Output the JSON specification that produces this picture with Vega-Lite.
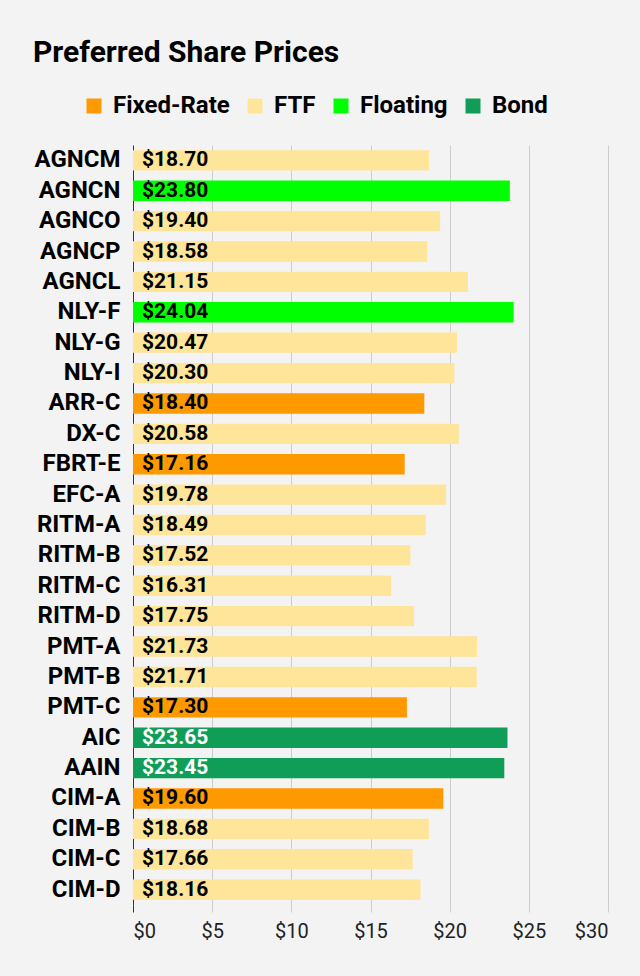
{
  "$schema": "https://vega.github.io/schema/vega-lite/v6.json",
  "width": 475,
  "height": 760,
  "autosize": {"type": "none"},
  "padding": {"left": 133, "top": 145, "right": 32, "bottom": 71},
  "background": "#f3f3f3",
  "title": {
    "text": "Preferred Share Prices",
    "anchor": "start",
    "frame": "group",
    "dx": -100,
    "fontSize": 30,
    "fontWeight": "bold",
    "font": "Roboto",
    "color": "#000000",
    "offset": 26
  },
  "config": {
    "view": {"stroke": null},
    "font": "Roboto"
  },
  "data": {
    "values": [
      {"name": "AGNCM", "price": 18.70, "type": "FTF"},
      {"name": "AGNCN", "price": 23.80, "type": "Floating"},
      {"name": "AGNCO", "price": 19.40, "type": "FTF"},
      {"name": "AGNCP", "price": 18.58, "type": "FTF"},
      {"name": "AGNCL", "price": 21.15, "type": "FTF"},
      {"name": "NLY-F", "price": 24.04, "type": "Floating"},
      {"name": "NLY-G", "price": 20.47, "type": "FTF"},
      {"name": "NLY-I", "price": 20.30, "type": "FTF"},
      {"name": "ARR-C", "price": 18.40, "type": "Fixed-Rate"},
      {"name": "DX-C", "price": 20.58, "type": "FTF"},
      {"name": "FBRT-E", "price": 17.16, "type": "Fixed-Rate"},
      {"name": "EFC-A", "price": 19.78, "type": "FTF"},
      {"name": "RITM-A", "price": 18.49, "type": "FTF"},
      {"name": "RITM-B", "price": 17.52, "type": "FTF"},
      {"name": "RITM-C", "price": 16.31, "type": "FTF"},
      {"name": "RITM-D", "price": 17.75, "type": "FTF"},
      {"name": "PMT-A", "price": 21.73, "type": "FTF"},
      {"name": "PMT-B", "price": 21.71, "type": "FTF"},
      {"name": "PMT-C", "price": 17.30, "type": "Fixed-Rate"},
      {"name": "AIC", "price": 23.65, "type": "Bond"},
      {"name": "AAIN", "price": 23.45, "type": "Bond"},
      {"name": "CIM-A", "price": 19.60, "type": "Fixed-Rate"},
      {"name": "CIM-B", "price": 18.68, "type": "FTF"},
      {"name": "CIM-C", "price": 17.66, "type": "FTF"},
      {"name": "CIM-D", "price": 18.16, "type": "FTF"}
    ]
  },
  "encoding": {
    "y": {
      "field": "name",
      "type": "nominal",
      "sort": null,
      "scale": {"paddingInner": 0.33, "paddingOuter": 0.17},
      "axis": {
        "title": null,
        "ticks": false,
        "domain": false,
        "labelFontSize": 24,
        "labelFontWeight": "bold",
        "labelColor": "#000000",
        "labelPadding": 13,
        "labelFont": "Roboto"
      }
    },
    "x": {
      "field": "price",
      "type": "quantitative",
      "scale": {"domain": [0, 30], "nice": false},
      "axis": {
        "title": null,
        "values": [0, 5, 10, 15, 20, 25, 30],
        "format": "$d",
        "labelFontSize": 20,
        "labelColor": "#222222",
        "labelPadding": 9,
        "domain": false,
        "tickSize": 7,
        "tickColor": {"condition": {"test": "datum.value === 0", "value": "#333333"}, "value": "#cccccc"},
        "gridColor": {"condition": {"test": "datum.value === 0", "value": "#333333"}, "value": "#cccccc"},
        "grid": true,
        "labelFont": "Roboto"
      }
    }
  },
  "layer": [
    {
      "mark": {"type": "bar"},
      "encoding": {
        "color": {
          "field": "type",
          "type": "nominal",
          "scale": {
            "domain": ["Fixed-Rate", "FTF", "Floating", "Bond"],
            "range": ["#ff9900", "#ffe599", "#00ff00", "#0f9d58"]
          },
          "legend": {
            "title": null,
            "orient": "none",
            "direction": "horizontal",
            "legendX": -51,
            "legendY": -51,
            "symbolType": "square",
            "symbolSize": 225,
            "symbolStrokeWidth": 0,
            "labelFontSize": 24,
            "labelFontWeight": "bold",
            "labelColor": "#000000",
            "labelFont": "Roboto",
            "columnPadding": 13,
            "labelOffset": 7
          }
        }
      }
    },
    {
      "mark": {"type": "text", "align": "left", "baseline": "middle", "dx": 9, "fontSize": 21, "fontWeight": "bold", "font": "Roboto"},
      "encoding": {
        "x": {"datum": 0},
        "text": {"field": "price", "type": "quantitative", "format": "$.2f"},
        "color": {
          "condition": {"test": "datum.type === 'Bond'", "value": "#ffffff"},
          "value": "#000000"
        }
      }
    }
  ]
}
